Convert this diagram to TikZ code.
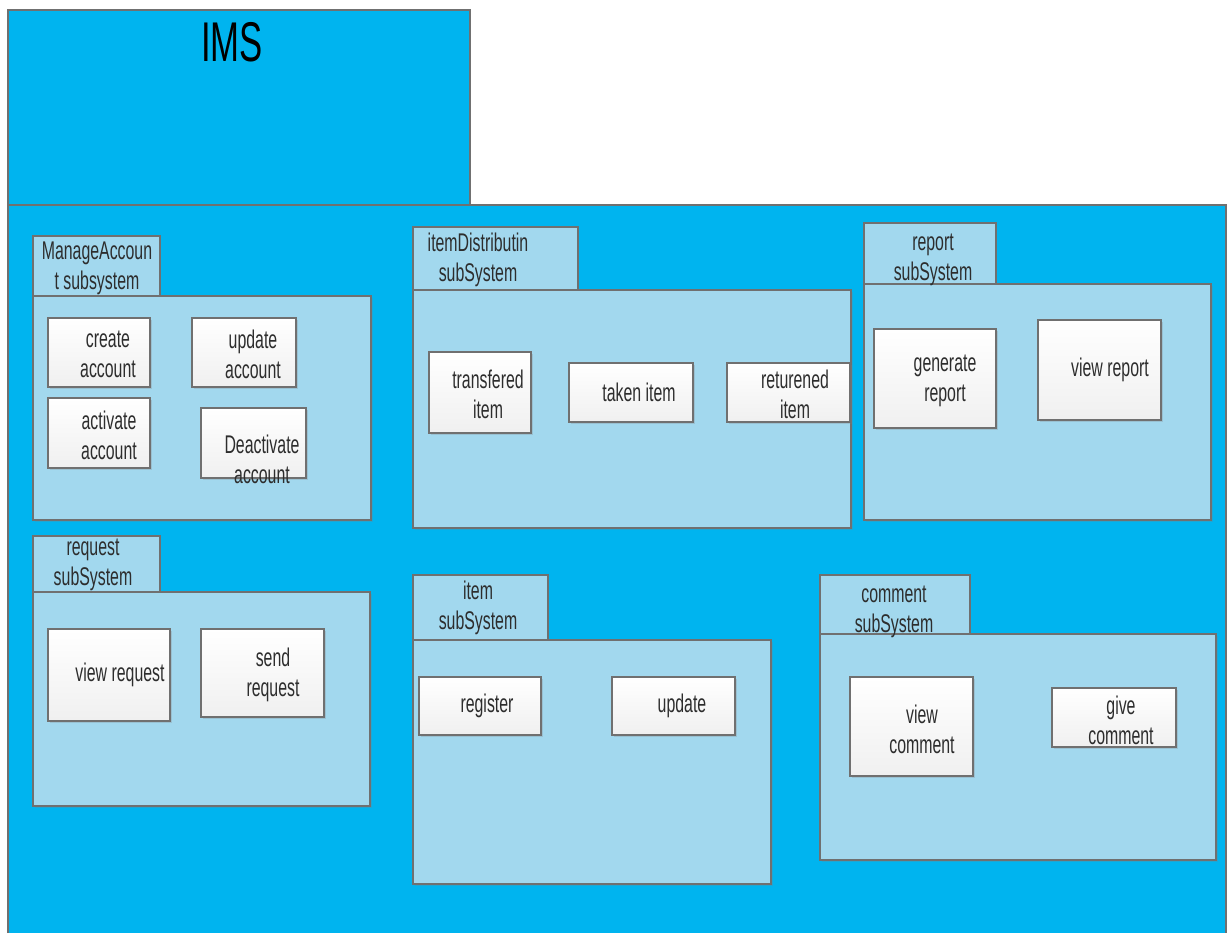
\documentclass[tikz,border=0pt]{standalone}
\usepackage{fontspec}
\setmainfont[FakeStretch=0.62]{Liberation Sans}
\usepackage{tikz}
\usetikzlibrary{shadows}
\definecolor{imsblue}{RGB}{0,180,239}
\definecolor{pkgblue}{RGB}{162,216,238}
\definecolor{edgegray}{RGB}{112,112,112}
\definecolor{txtgray}{RGB}{45,45,45}

\tikzset{
  pkgtab/.style={fill=pkgblue, draw=edgegray, line width=1pt},
  pkgbody/.style={fill=pkgblue, draw=edgegray, line width=1pt,
    drop shadow={shadow xshift=1pt, shadow yshift=-1pt, opacity=0.25}},
  opbox/.style={draw=edgegray, line width=1pt, top color=white, bottom color=gray!12,
    drop shadow={shadow xshift=0.8pt, shadow yshift=-0.8pt, opacity=0.25}},
  lbl/.style={text=txtgray, align=center, inner sep=0pt, font=\fontsize{12.8}{15}\selectfont},
}

\begin{document}
\begin{tikzpicture}[x=0.5pt,y=-0.5pt]
    \useasboundingbox (0,0) rectangle (1230,933);

    % IMS outer package (tab + body)
    \fill[imsblue] (8,10) rectangle (470,205);
    \fill[imsblue] (8,205) rectangle (1226,933);
    \draw[edgegray,line width=1pt] (8,205) -- (8,10) -- (470,10) -- (470,205);
    \draw[edgegray,line width=1pt] (8,933) -- (8,205) -- (1226,205) -- (1226,933);
    \node[lbl,text=black,font=\fontsize{28}{30}\selectfont] (ims) at (232,42) {IMS};

    % ManageAccount subsystem
    \draw[pkgtab] (33,236) rectangle (160,296);
    \draw[pkgbody] (33,296) rectangle (371,520);
    \node[lbl] (acctitle) at (97,268) {ManageAccoun\\t subsystem};
    \draw[opbox] (48,318) rectangle (150,387);
    \node[lbl] (create) at (108,354) {create\\account};
    \draw[opbox] (192,318) rectangle (296,387);
    \node[lbl] (updacc) at (253,354) {update\\account};
    \draw[opbox] (48,398) rectangle (150,468);
    \node[lbl] (activate) at (109,435) {activate\\account};
    \draw[opbox] (201,408) rectangle (306,478);
    \node[lbl] (deactivate) at (262,459) {Deactivate\\account};

    % itemDistributin subSystem
    \draw[pkgtab] (413,227) rectangle (578,290);
    \draw[pkgbody] (413,290) rectangle (851,528);
    \node[lbl] (disttitle) at (478,260) {itemDistributin\\subSystem};
    \draw[opbox] (429,352) rectangle (531,433);
    \node[lbl] (transfered) at (488,394) {transfered\\item};
    \draw[opbox] (569,363) rectangle (693,422);
    \node[lbl] (taken) at (639,392) {taken item};
    \draw[opbox] (727,363) rectangle (850,422);
    \node[lbl] (returened) at (795,394) {returened\\item};

    % report subSystem
    \draw[pkgtab] (864,223) rectangle (996,284);
    \draw[pkgbody] (864,284) rectangle (1211,520);
    \node[lbl] (reptitle) at (933,260) {report\\subSystem};
    \draw[opbox] (874,329) rectangle (996,428);
    \node[lbl] (generate) at (945,381) {generate\\report};
    \draw[opbox] (1038,320) rectangle (1161,420);
    \node[lbl] (viewrep) at (1110,370) {view report};

    % request subSystem
    \draw[pkgtab] (33,536) rectangle (160,592);
    \draw[pkgbody] (33,592) rectangle (370,806);
    \node[lbl] (reqtitle) at (93,565) {request\\subSystem};
    \draw[opbox] (48,629) rectangle (170,721);
    \node[lbl] (viewreq) at (120,675) {view request};
    \draw[opbox] (201,629) rectangle (324,717);
    \node[lbl] (sendreq) at (273,675) {send\\request};

    % item subSystem
    \draw[pkgtab] (413,575) rectangle (548,640);
    \draw[pkgbody] (413,640) rectangle (771,884);
    \node[lbl] (itemtitle) at (478,608) {item\\subSystem};
    \draw[opbox] (419,677) rectangle (541,735);
    \node[lbl] (register) at (487,706) {register};
    \draw[opbox] (612,677) rectangle (735,735);
    \node[lbl] (upditem) at (682,706) {update};

    % comment subSystem
    \draw[pkgtab] (820,575) rectangle (970,634);
    \draw[pkgbody] (820,634) rectangle (1216,860);
    \node[lbl] (comtitle) at (894,612) {comment\\subSystem};
    \draw[opbox] (850,677) rectangle (973,776);
    \node[lbl] (viewcom) at (922,729) {view\\comment};
    \draw[opbox] (1052,688) rectangle (1176,747);
    \node[lbl] (givecom) at (1121,720) {give\\comment};
\end{tikzpicture}
\end{document}
